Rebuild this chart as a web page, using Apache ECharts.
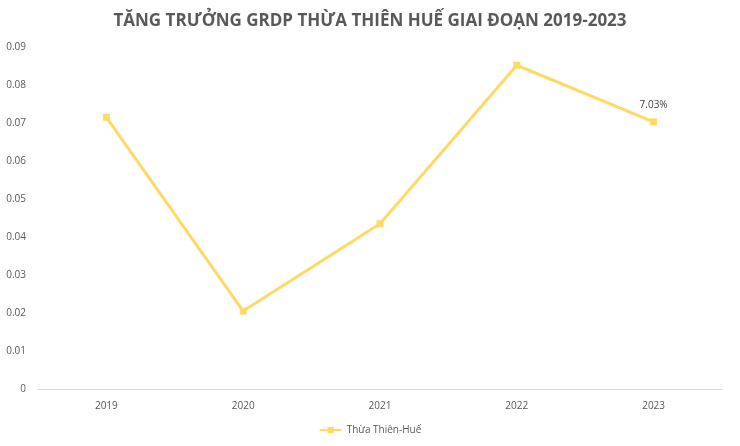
<!DOCTYPE html>
<html><head><meta charset="utf-8">
<script src="https://cdn.jsdelivr.net/npm/echarts@6/dist/echarts.min.js"></script>
<style>html,body{margin:0;padding:0;background:#fff}#main{width:740px;height:446px}</style>
</head><body><div id="main"></div>
<script>
var years = ['2019', '2020', '2021', '2022', '2023'];
var growth = [0.0715, 0.0205, 0.0435, 0.0852, 0.0703];
var seriesName = 'Thừa Thiên-Huế';

var chart = echarts.init(document.getElementById('main'));
chart.setOption({
  animation: false,
  title: {
    text: 'TĂNG TRƯỞNG GRDP THỪA THIÊN HUẾ GIAI ĐOẠN 2019-2023',
    left: 'center', top: 8,
    textStyle: {fontFamily: 'Open Sans', fontSize: 17, fontWeight: 'bold', color: '#595959'}
  },
  legend: {
    bottom: 6, left: 'center', itemWidth: 22, itemHeight: 8,
    textStyle: {fontFamily: 'Open Sans', fontSize: 10, color: '#595959'},
    data: [seriesName]
  },
  grid: {left: 38, right: 18, top: 47, bottom: 57},
  xAxis: {
    type: 'category', data: years, boundaryGap: true,
    axisLine: {lineStyle: {color: '#d9d9d9'}},
    axisTick: {show: false},
    axisLabel: {fontFamily: 'Open Sans', fontSize: 10, color: '#595959', margin: 12}
  },
  yAxis: {
    type: 'value', min: 0, max: 0.09, interval: 0.01,
    axisLabel: {fontFamily: 'Open Sans', fontSize: 10, color: '#595959', margin: 12,
      formatter: function (v) { return v === 0 ? '0' : v.toFixed(2); }},
    splitLine: {show: false},
    axisLine: {show: false}, axisTick: {show: false}
  },
  series: [{
    name: seriesName, type: 'line', data: growth,
    symbol: 'rect', symbolSize: 7,
    lineStyle: {color: '#ffd966', width: 3},
    itemStyle: {color: '#ffd966'},
    label: {
      show: true, position: 'top', distance: 8,
      fontFamily: 'Open Sans', fontSize: 10, color: '#404040',
      formatter: function (p) { return p.dataIndex === growth.length - 1 ? (p.value * 100).toFixed(2) + '%' : ''; }
    }
  }]
});
</script></body></html>
